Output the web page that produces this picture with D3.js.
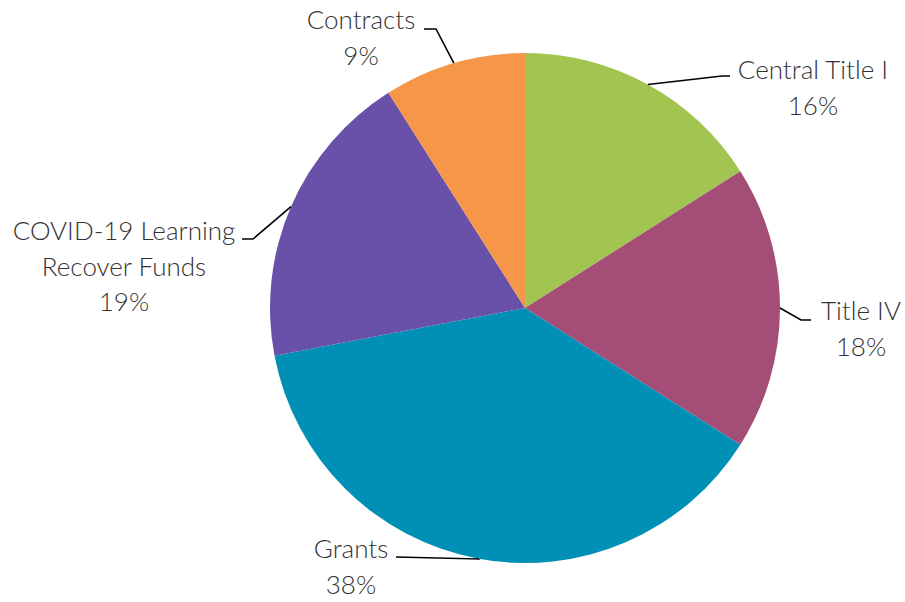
<!DOCTYPE html>
<html>
<head>
<meta charset="utf-8">
<script src="https://cdn.jsdelivr.net/npm/d3@7"></script>
<style>
  html, body { margin: 0; padding: 0; background: #fff; }
  svg text { font-family: Lato, "Open Sans", sans-serif; font-weight: 300; fill: #333; }
</style>
</head>
<body>
<svg id="chart" width="905" height="602"></svg>
<script>
// Funding sources, clockwise from 12 o'clock
const categories = ["Central Title I", "Title IV", "Grants", "COVID-19 Learning Recover Funds", "Contracts"];
const shares = [16, 18, 38, 19, 9];
const colors = ["#A2C450", "#A44E77", "#008FB5", "#6950A8", "#F69649"];
const labelLines = [
  ["Central Title I", "16%"],
  ["Title IV", "18%"],
  ["Grants", "38%"],
  ["COVID-19 Learning", "Recover Funds", "19%"],
  ["Contracts", "9%"]
];

const svg = d3.select("#chart");
const cx = 525, cy = 308, radius = 255;

// Label layout: text anchor point, elbow of the leader line, end of horizontal tick
const labelLayout = [
  { x: 813, y: 79,  elbow: [722, 76],  end: [730, 76] },
  { x: 861, y: 320, elbow: [801, 320], end: [811, 320] },
  { x: 351, y: 558, elbow: [478, 559], end: [396, 557] },
  { x: 124, y: 240, elbow: [253, 239], end: [242, 239] },
  { x: 361, y: 29,  elbow: [436, 29],  end: [424, 29] }
];

const pie = d3.pie().sort(null).value(d => d)(shares);
const arc = d3.arc().innerRadius(0).outerRadius(radius);

const g = svg.append("g").attr("transform", `translate(${cx},${cy})`);
g.selectAll("path.slice")
  .data(pie)
  .join("path")
  .attr("class", "slice")
  .attr("d", arc)
  .attr("fill", (d, i) => colors[i]);

// Leader lines start on the rim at each slice's mid-angle
pie.forEach((d, i) => {
  const a = (d.startAngle + d.endAngle) / 2;
  const sx = cx + radius * Math.sin(a);
  const sy = cy - radius * Math.cos(a);
  const L = labelLayout[i];
  svg.append("polyline")
    .attr("points", [[sx, sy], L.elbow, L.end].map(p => p.join(",")).join(" "))
    .attr("fill", "none")
    .attr("stroke", "#000")
    .attr("stroke-width", 1.6);
});

const lineH = 35.5;
labelLines.forEach((lines, i) => {
  const L = labelLayout[i];
  const t = svg.append("text")
    .attr("text-anchor", "middle")
    .attr("font-size", 26);
  lines.forEach((s, k) => {
    t.append("tspan").attr("x", L.x).attr("y", L.y + k * lineH).text(s);
  });
});
</script>
</body>
</html>
